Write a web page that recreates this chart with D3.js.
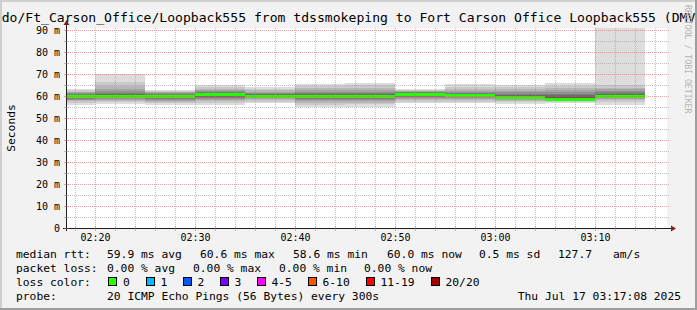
<!DOCTYPE html>
<html>
<head>
<meta charset="utf-8">
<script src="https://cdn.jsdelivr.net/npm/d3@7"></script>
<style>
  html, body { margin: 0; padding: 0; background: #f2f2f2; }
  svg { display: block; }
  text { font-family: "DejaVu Sans Mono", monospace; }
</style>
</head>
<body>
<div id="chart"></div>
<script>
var width = 697;
var height = 310;

// time window of the graph (one hour ending at the timestamp)
var startTime = "2025-07-17 02:17:08";
var endTime = "2025-07-17 03:17:08";
// end of each 5 minute step
var stepEnds = ["02:20", "02:25", "02:30", "02:35", "02:40", "02:45",
                "02:50", "02:55", "03:00", "03:05", "03:10", "03:15"];

// 20 sorted ping rtts (ms) per step, read from the smoke
var pings = [
  [56.0, 57.0, 57.6, 58.0, 58.4, 58.8, 59.1, 59.3, 59.5, 59.6, 59.7, 59.9, 60.1, 60.4, 60.8, 61.2, 61.6, 62.0, 62.6, 63.2],
  [56.2, 57.2, 57.8, 58.3, 58.7, 59.0, 59.3, 59.5, 59.7, 59.8, 59.9, 60.1, 60.4, 60.8, 61.4, 62.2, 63.2, 64.5, 66.5, 70.0],
  [56.0, 56.8, 57.4, 57.9, 58.3, 58.7, 59.0, 59.3, 59.5, 59.7, 59.8, 60.0, 60.2, 60.5, 60.8, 61.2, 61.6, 62.0, 62.5, 62.9],
  [55.8, 56.8, 57.6, 58.2, 58.8, 59.3, 59.7, 60.0, 60.3, 60.5, 60.7, 60.9, 61.2, 61.5, 61.9, 62.3, 62.8, 63.4, 64.1, 64.8],
  [56.8, 57.5, 58.0, 58.5, 58.9, 59.2, 59.5, 59.7, 59.9, 60.0, 60.1, 60.3, 60.5, 60.8, 61.1, 61.5, 62.0, 62.6, 63.3, 64.1],
  [54.9, 56.0, 56.9, 57.6, 58.2, 58.7, 59.1, 59.4, 59.7, 59.9, 60.0, 60.2, 60.5, 60.9, 61.4, 62.0, 62.7, 63.5, 64.5, 65.6],
  [55.0, 56.2, 57.0, 57.7, 58.3, 58.8, 59.2, 59.5, 59.7, 59.9, 60.0, 60.2, 60.5, 60.9, 61.4, 62.0, 62.8, 63.7, 64.8, 65.9],
  [56.8, 57.5, 58.1, 58.6, 59.0, 59.4, 59.8, 60.1, 60.3, 60.5, 60.7, 60.9, 61.1, 61.3, 61.6, 61.9, 62.2, 62.5, 62.9, 63.3],
  [56.8, 57.5, 58.1, 58.6, 59.0, 59.4, 59.7, 59.9, 60.0, 60.1, 60.2, 60.4, 60.7, 61.0, 61.4, 61.9, 62.5, 63.3, 64.3, 65.5],
  [56.4, 57.2, 57.8, 58.3, 58.7, 59.0, 59.2, 59.4, 59.5, 59.5, 59.6, 59.8, 60.1, 60.5, 61.0, 61.6, 62.3, 63.0, 63.9, 64.8],
  [56.8, 57.2, 57.6, 57.9, 58.1, 58.3, 58.4, 58.5, 58.6, 58.6, 58.7, 59.0, 59.6, 60.3, 61.0, 61.8, 62.6, 63.5, 64.6, 65.8],
  [55.8, 57.3, 58.0, 58.6, 59.0, 59.3, 59.6, 59.8, 59.9, 60.0, 60.1, 60.3, 60.6, 61.0, 61.6, 62.3, 63.0, 63.8, 65.2, 120.0]
];
var medians = [59.6, 59.8, 59.7, 60.6, 60.0, 59.9, 59.9, 60.6, 60.1, 59.5, 58.6, 60.0];
var lossPct = [0, 0, 0, 0, 0, 0, 0, 0, 0, 0, 0, 0];

var yTicks = [0, 10, 20, 30, 40, 50, 60, 70, 80, 90];
var yMinor = [5, 15, 25, 35, 45, 55, 65, 75, 85];

var lossLabels = ["0", "1", "2", "3", "4-5", "6-10", "11-19", "20/20"];
var lossColors = ["#26ff00", "#00b8ff", "#0059ff", "#7e00ff", "#ff00ff", "#ff5500", "#ff0000", "#a00000"];

var titleText = "do/Ft_Carson_Office/Loopback555 from tdssmokeping to Fort Carson Office Loopback555 (DMV";
var probeText = "20 ICMP Echo Pings (56 Bytes) every 300s";
var slopeText = "127.7";
var dateText = "Thu Jul 17 03:17:08 2025";

var parseTime = d3.utcParse("%Y-%m-%d %H:%M:%S");
var t0 = parseTime(startTime);
var t1 = parseTime(endTime);
var ends = stepEnds.map((s) => parseTime("2025-07-17 " + s + ":00"));

var x = d3.scaleUtc().domain([t0, t1]).range([66, 666]);
var y = d3.scaleLinear().domain([0, 200 / 2.2]).range([228, 28]);

const svg = d3.select("#chart")
  .append("svg")
  .attr("width", width)
  .attr("height", height)
  .attr("viewBox", [0, 0, width, height]);

// background + 3d frame
svg.append("rect").attr("width", width).attr("height", height).attr("fill", "#f2f2f2");
svg.append("rect").attr("x", 0).attr("y", 0).attr("width", width).attr("height", 2).attr("fill", "#cfcfcf");
svg.append("rect").attr("x", 0).attr("y", 0).attr("width", 2).attr("height", height).attr("fill", "#cfcfcf");
svg.append("rect").attr("x", 0).attr("y", height - 2).attr("width", width).attr("height", 2).attr("fill", "#9e9e9e");
svg.append("rect").attr("x", width - 2).attr("y", 0).attr("width", 2).attr("height", height).attr("fill", "#9e9e9e");

// canvas
svg.append("rect")
  .attr("x", x.range()[0]).attr("y", y.range()[1])
  .attr("width", x.range()[1] - x.range()[0] + 1)
  .attr("height", y.range()[0] - y.range()[1])
  .attr("fill", "#ffffff");

svg.append("clipPath").attr("id", "canvasClip")
  .append("rect")
  .attr("x", x.range()[0]).attr("y", y.range()[1])
  .attr("width", x.range()[1] - x.range()[0] + 1)
  .attr("height", y.range()[0] - y.range()[1]);

const plot = svg.append("g").attr("clip-path", "url(#canvasClip)");

// smoke: layer ibot spans ping[ibot] .. ping[n-1-ibot]
var half = 10;
pings.forEach(function (p, i) {
  var xs = Math.round(x(d3.utcMinute.offset(ends[i], -5)));
  var xe = Math.round(x(ends[i]));
  for (let ibot = 0; ibot < half; ibot++) {
    var c = Math.floor(190 / half * (half - 1 - ibot)) + 50;
    var lo = p[ibot];
    var hi = p[p.length - 1 - ibot];
    plot.append("rect")
      .attr("x", xs)
      .attr("width", xe - xs)
      .attr("y", y(hi))
      .attr("height", y(lo) - y(hi))
      .attr("fill", d3.rgb(c, c, c))
      .attr("shape-rendering", "crispEdges");
  }
  // median band coloured by loss
  var li = lossPct[i] === 0 ? 0 : 1;
  plot.append("rect")
    .attr("x", xs)
    .attr("width", xe - xs)
    .attr("y", y(medians[i]) - 1.5)
    .attr("height", 3)
    .attr("fill", lossColors[li])
    .attr("shape-rendering", "crispEdges");
});

// grid
var gridColor = "rgba(143,143,143,0.55)";
var mgridColor = "rgba(222,79,79,0.5)";
var xMinor = d3.utcMinute.every(2).range(t0, t1);
var xMajor = d3.utcMinute.every(10).range(t0, t1);

svg.selectAll("line.hminor").data(yMinor).enter().append("line")
  .attr("x1", 66).attr("x2", 669)
  .attr("y1", (d) => Math.round(y(d)) + 0.5).attr("y2", (d) => Math.round(y(d)) + 0.5)
  .attr("stroke", gridColor).attr("stroke-dasharray", "1,1");
svg.selectAll("line.vminor").data(xMinor.filter((d) => d.getUTCMinutes() % 10 !== 0)).enter().append("line")
  .attr("x1", (d) => Math.round(x(d)) + 0.5).attr("x2", (d) => Math.round(x(d)) + 0.5)
  .attr("y1", 28).attr("y2", 228)
  .attr("stroke", gridColor).attr("stroke-dasharray", "1,1");
svg.selectAll("line.hmajor").data(yTicks.slice(1)).enter().append("line")
  .attr("x1", 66).attr("x2", 669)
  .attr("y1", (d) => Math.round(y(d)) + 0.5).attr("y2", (d) => Math.round(y(d)) + 0.5)
  .attr("stroke", mgridColor).attr("stroke-dasharray", "1,1");
svg.selectAll("line.vmajor").data(xMajor).enter().append("line")
  .attr("x1", (d) => Math.round(x(d)) + 0.5).attr("x2", (d) => Math.round(x(d)) + 0.5)
  .attr("y1", 28).attr("y2", 228)
  .attr("stroke", mgridColor).attr("stroke-dasharray", "1,1");

// axes
var axisColor = "#1f1f1f";
var arrowColor = "#802020";
svg.append("line").attr("x1", 63).attr("x2", 671).attr("y1", 228.5).attr("y2", 228.5)
  .attr("stroke", axisColor);
svg.append("line").attr("x1", 66.5).attr("x2", 66.5).attr("y1", 231).attr("y2", 25)
  .attr("stroke", axisColor);
svg.append("path").attr("d", "M671,225.5L676,228.5L671,231.5Z").attr("fill", arrowColor);
svg.append("path").attr("d", "M63.5,25L66.5,20L69.5,25Z").attr("fill", arrowColor);

// small ticks on the axes
svg.selectAll("line.xt").data(xMinor).enter().append("line")
  .attr("x1", (d) => Math.round(x(d)) + 0.5).attr("x2", (d) => Math.round(x(d)) + 0.5)
  .attr("y1", 226).attr("y2", 231)
  .attr("stroke", (d) => d.getUTCMinutes() % 10 === 0 ? mgridColor : gridColor);
svg.selectAll("line.yt").data(yTicks.concat(yMinor)).enter().append("line")
  .attr("x1", 64).attr("x2", 69)
  .attr("y1", (d) => Math.round(y(d)) + 0.5).attr("y2", (d) => Math.round(y(d)) + 0.5)
  .attr("stroke", (d) => d % 10 === 0 ? mgridColor : gridColor);

// tick labels
svg.selectAll("text.ylab").data(yTicks).enter().append("text")
  .attr("x", 60).attr("y", (d) => y(d) + 3.5)
  .attr("text-anchor", "end")
  .attr("font-size", 10)
  .attr("fill", "#000")
  .text((d) => d === 0 ? "0" : d + " m");
var fmt = d3.utcFormat("%H:%M");
svg.selectAll("text.xlab").data(xMajor).enter().append("text")
  .attr("x", (d) => Math.round(x(d)) + 0.5).attr("y", 241)
  .attr("text-anchor", "middle")
  .attr("font-size", 10)
  .attr("fill", "#000")
  .text((d) => fmt(d));

// titles
svg.append("text").attr("x", width / 2).attr("y", 22)
  .attr("text-anchor", "middle").attr("font-size", 13.1).attr("fill", "#000")
  .text(titleText);
svg.append("text").attr("transform", "translate(15,128) rotate(-90)")
  .attr("text-anchor", "middle").attr("font-size", 11.3).attr("fill", "#000")
  .text("Seconds");
svg.append("text").attr("transform", "translate(685,5) rotate(90)")
  .attr("font-size", 8.2).attr("fill", "#b4b4b4")
  .text("RRDTOOL / TOBI OETIKER");

// legend
var lf = 11.3;
function legendText(str, lx, ly, anchor) {
  svg.append("text").attr("x", lx).attr("y", ly)
    .attr("font-size", lf).attr("fill", "#000")
    .attr("text-anchor", anchor || "start")
    .attr("xml:space", "preserve")
    .text(str);
}
var f1 = d3.format(".1f");
var f2 = d3.format(".2f");
var avg = d3.mean(medians), mx = d3.max(medians), mn = d3.min(medians);
var now = medians[medians.length - 1];
var sd = Math.sqrt(d3.mean(medians, (d) => (d - avg) * (d - avg)));

legendText("median rtt:", 16, 258);
legendText(f1(avg) + " ms avg", 107, 258);
legendText(f1(mx) + " ms max", 200, 258);
legendText(f1(mn) + " ms min", 293, 258);
legendText(f1(now) + " ms now", 387, 258);
legendText(f1(sd) + " ms sd", 479, 258);
legendText(slopeText, 558, 258);
legendText("am/s", 613, 258);

legendText("packet loss:", 16, 272);
legendText(f2(d3.mean(lossPct)) + " % avg", 107, 272);
legendText(f2(d3.max(lossPct)) + " % max", 193, 272);
legendText(f2(d3.min(lossPct)) + " % min", 279, 272);
legendText(f2(lossPct[lossPct.length - 1]) + " % now", 364, 272);

legendText("loss color:", 16, 286);
var boxX = [108, 145.5, 182.5, 219.5, 256.5, 307.5, 365.5, 430.5];
lossLabels.forEach(function (lab, i) {
  svg.append("rect").attr("x", Math.round(boxX[i]) + 0.5).attr("y", 277.5)
    .attr("width", 8).attr("height", 8)
    .attr("fill", lossColors[i]).attr("stroke", "#000");
  legendText(lab, boxX[i] + 15, 286);
});

legendText("probe:", 16, 300);
legendText(probeText, 107, 300);
legendText(dateText, 681, 300, "end");
</script>
</body>
</html>
